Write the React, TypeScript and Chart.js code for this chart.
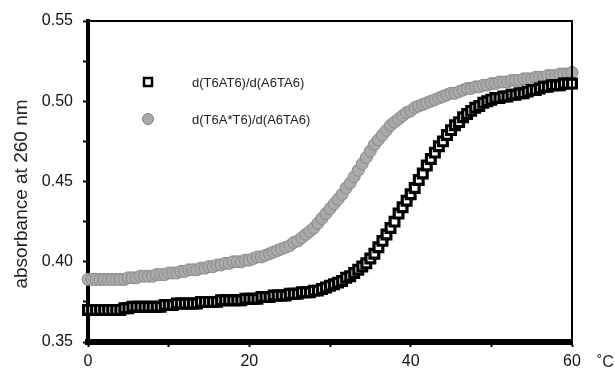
import React, { useEffect, useRef } from 'react';
import { Chart, registerables } from 'chart.js';
Chart.register(...registerables);

const temperatures = [
  0, 0.5, 1, 1.5, 2, 2.5, 3, 3.5, 4, 4.5, 5, 5.5, 6, 6.5, 7, 7.5, 8, 8.5, 9, 9.5,
  10, 10.5, 11, 11.5, 12, 12.5, 13, 13.5, 14, 14.5, 15, 15.5, 16, 16.5, 17, 17.5, 18, 18.5, 19, 19.5,
  20, 20.5, 21, 21.5, 22, 22.5, 23, 23.5, 24, 24.5, 25, 25.5, 26, 26.5, 27, 27.5, 28, 28.5, 29, 29.5,
  30, 30.5, 31, 31.5, 32, 32.5, 33, 33.5, 34, 34.5, 35, 35.5, 36, 36.5, 37, 37.5, 38, 38.5, 39, 39.5,
  40, 40.5, 41, 41.5, 42, 42.5, 43, 43.5, 44, 44.5, 45, 45.5, 46, 46.5, 47, 47.5, 48, 48.5, 49, 49.5,
  50, 50.5, 51, 51.5, 52, 52.5, 53, 53.5, 54, 54.5, 55, 55.5, 56, 56.5, 57, 57.5, 58, 58.5, 59, 59.5,
  60,
];

// d(T6AT6)/d(A6TA6)
const absT6AT6 = [
  0.370, 0.370, 0.370, 0.370, 0.370, 0.370, 0.370, 0.370, 0.370, 0.371, 0.371, 0.372, 0.372, 0.372, 0.372, 0.372, 0.372, 0.372, 0.372, 0.373,
  0.373, 0.373, 0.374, 0.374, 0.374, 0.374, 0.374, 0.374, 0.375, 0.375, 0.375, 0.375, 0.375, 0.376, 0.376, 0.376, 0.376, 0.376, 0.376, 0.377,
  0.377, 0.377, 0.377, 0.378, 0.378, 0.378, 0.379, 0.379, 0.379, 0.379, 0.380, 0.380, 0.380, 0.381, 0.381, 0.381, 0.382, 0.382, 0.383, 0.384,
  0.385, 0.386, 0.387, 0.388, 0.390, 0.391, 0.393, 0.395, 0.397, 0.399, 0.402, 0.405, 0.409, 0.413, 0.417, 0.421, 0.425, 0.430, 0.434, 0.438,
  0.442, 0.446, 0.451, 0.455, 0.460, 0.464, 0.468, 0.472, 0.475, 0.479, 0.482, 0.485, 0.487, 0.490, 0.492, 0.494, 0.496, 0.497, 0.499, 0.500,
  0.501, 0.502, 0.502, 0.503, 0.503, 0.504, 0.504, 0.505, 0.505, 0.506, 0.507, 0.507, 0.508, 0.509, 0.509, 0.510, 0.510, 0.510, 0.511, 0.511,
  0.511,
];

// d(T6A*T6)/d(A6TA6)
const absT6AstarT6 = [
  0.389, 0.389, 0.389, 0.389, 0.389, 0.389, 0.389, 0.389, 0.389, 0.389, 0.390, 0.390, 0.390, 0.391, 0.391, 0.391, 0.391, 0.392, 0.392, 0.392,
  0.393, 0.393, 0.393, 0.394, 0.394, 0.395, 0.395, 0.395, 0.396, 0.396, 0.397, 0.397, 0.398, 0.398, 0.399, 0.399, 0.400, 0.400, 0.400, 0.401,
  0.401, 0.402, 0.403, 0.403, 0.404, 0.405, 0.406, 0.407, 0.408, 0.409, 0.410, 0.412, 0.413, 0.415, 0.417, 0.419, 0.421, 0.424, 0.427, 0.430,
  0.433, 0.436, 0.439, 0.442, 0.446, 0.449, 0.453, 0.457, 0.461, 0.465, 0.469, 0.473, 0.476, 0.479, 0.482, 0.485, 0.487, 0.489, 0.491, 0.493,
  0.494, 0.496, 0.497, 0.498, 0.499, 0.500, 0.501, 0.502, 0.503, 0.504, 0.505, 0.505, 0.506, 0.507, 0.508, 0.508, 0.509, 0.509, 0.510, 0.510,
  0.511, 0.511, 0.512, 0.512, 0.512, 0.513, 0.513, 0.513, 0.514, 0.514, 0.514, 0.515, 0.515, 0.515, 0.516, 0.516, 0.516, 0.517, 0.517, 0.517,
  0.518,
];

const seriesLabels = ['d(T6AT6)/d(A6TA6)', 'd(T6A*T6)/d(A6TA6)'];
const yAxisTitle = 'absorbance at 260 nm';
const xUnitLabel = '˚C';
const FONT = '"Liberation Sans", Arial, Helvetica, sans-serif';

export default function App() {
  const ref = useRef<HTMLCanvasElement>(null);

  useEffect(() => {
    document.body.style.margin = '0';
    const canvas = ref.current!;

    const decor = {
      id: 'decor',
      afterDraw(chart: any) {
        const c = chart.ctx as CanvasRenderingContext2D;
        const a = chart.chartArea;
        c.save();
        // top and right frame
        c.strokeStyle = '#000';
        c.lineWidth = 2;
        c.beginPath();
        c.moveTo(a.left, a.top);
        c.lineTo(a.right, a.top);
        c.lineTo(a.right, a.bottom);
        c.stroke();

        // legend
        c.lineWidth = 2.5;
        c.strokeStyle = '#000';
        c.fillStyle = '#fff';
        c.fillRect(144, 78, 8, 8);
        c.strokeRect(144, 78, 8, 8);
        c.beginPath();
        c.arc(148, 119, 5.5, 0, Math.PI * 2);
        c.fillStyle = '#aaaaaa';
        c.fill();
        c.lineWidth = 1;
        c.strokeStyle = '#808080';
        c.stroke();

        c.fillStyle = '#222';
        c.font = `13px ${FONT}`;
        c.textAlign = 'left';
        c.textBaseline = 'middle';
        c.fillText(seriesLabels[0], 192, 83);
        c.fillText(seriesLabels[1], 192, 120);

        // unit label
        c.font = `16px ${FONT}`;
        c.textBaseline = 'alphabetic';
        c.fillText(xUnitLabel, 597, 367);

        // y title
        c.translate(22, 194);
        c.rotate(-Math.PI / 2);
        c.font = `19px ${FONT}`;
        c.textAlign = 'center';
        c.textBaseline = 'middle';
        c.fillText(yAxisTitle, 0, 0);
        c.restore();
      },
    };

    const chart = new Chart(canvas, {
      type: 'scatter',
      data: {
        datasets: [
          {
            label: seriesLabels[0],
            data: temperatures.map((t, i) => ({ x: t, y: absT6AT6[i] })),
            pointStyle: 'rect',
            pointRadius: 6.2,
            backgroundColor: '#fff',
            borderColor: '#000',
            borderWidth: 3.2,
            showLine: false,
            clip: false as any,
          },
          {
            label: seriesLabels[1],
            data: temperatures.map((t, i) => ({ x: t, y: absT6AstarT6[i] })),
            pointStyle: 'circle',
            pointRadius: 6,
            backgroundColor: '#aaaaaa',
            borderColor: '#8a8a8a',
            borderWidth: 1,
            showLine: false,
            clip: false as any,
          },
        ],
      },
      options: {
        animation: false,
        responsive: false,
        events: [],
        layout: { padding: { top: 21, right: 43, left: 0, bottom: 0 } },
        plugins: { legend: { display: false }, tooltip: { enabled: false } },
        scales: {
          x: {
            type: 'linear',
            min: 0,
            max: 60,
            afterFit(s: any) { s.height = 27; },
            ticks: {
              stepSize: 10,
              autoSkip: false,
              maxRotation: 0,
              padding: 5,
              color: '#111',
              font: { family: FONT, size: 16 },
              callback: (v: any) => (Number(v) % 20 === 0 ? String(v) : ''),
            },
            grid: { drawOnChartArea: false, tickLength: 5, color: '#000', tickWidth: 2 },
            border: { color: '#000', width: 6 },
          },
          y: {
            type: 'linear',
            min: 0.35,
            max: 0.55,
            afterFit(s: any) { s.width = 88; },
            ticks: {
              stepSize: 0.025,
              autoSkip: false,
              padding: 10,
              color: '#111',
              font: { family: FONT, size: 16 },
              callback: (v: any) => {
                const n = Number(v) * 20;
                return Math.abs(n - Math.round(n)) < 1e-6 ? Number(v).toFixed(2) : '';
              },
            },
            grid: { drawOnChartArea: false, tickLength: 5, color: '#000', tickWidth: 2 },
            border: { color: '#000', width: 4 },
          },
        },
      },
      plugins: [decor],
    });
    return () => chart.destroy();
  }, []);

  return (
    <div style={{ width: 615, height: 369 }}>
      <canvas ref={ref} width={615} height={369} style={{ display: 'block' }} />
    </div>
  );
}
